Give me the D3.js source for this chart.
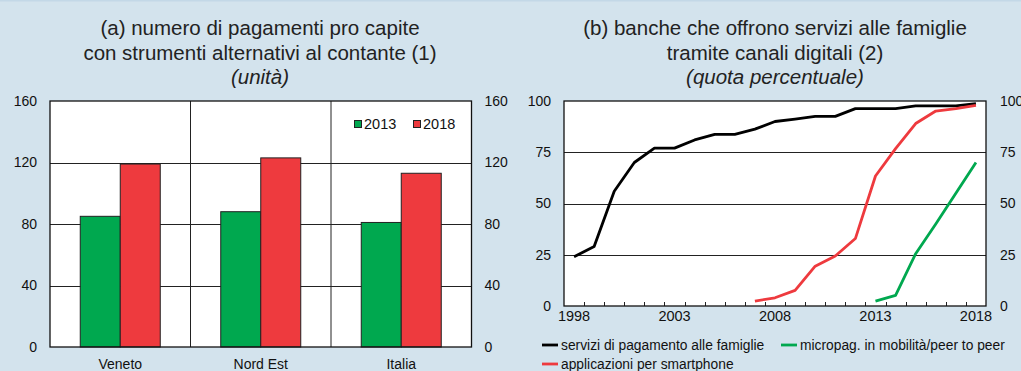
<!DOCTYPE html>
<html>
<head>
<meta charset="utf-8">
<script src="https://cdn.jsdelivr.net/npm/d3@7/dist/d3.min.js"></script>
<style>
  html, body { margin: 0; padding: 0; background: #d3e3ed; }
  svg { display: block; font-family: "Liberation Sans", Arial, sans-serif; }
</style>
</head>
<body>
<svg id="chart" width="1021" height="371"></svg>
<script>
// Panel (a): payments per capita with non-cash instruments
const regions = ["Veneto", "Nord Est", "Italia"];
const years = ["2013", "2018"];
const pay2013 = [85, 88, 81];
const pay2018 = [119, 123, 113];
const ticksA = [0, 40, 80, 120, 160];

// Panel (b): share of banks offering digital services to households
const yearsB = d3.range(1998, 2019);
const servizi = [24, 29, 56, 70, 77, 77, 81, 83.7, 83.7, 86.3, 90, 91.2, 92.5, 92.5, 96.3, 96.3, 96.3, 97.6, 97.6, 97.6, 98.7];
const appYears = d3.range(2007, 2019);
const app = [2.4, 4, 7.6, 19.4, 24.4, 32.9, 63.4, 76.8, 89, 95.1, 96.3, 97.9];
const microYears = d3.range(2013, 2019);
const micro = [2.4, 5.2, 25.5, 40, 55, 70];
const ticksB = [0, 25, 50, 75, 100];
const labelYearsB = [1998, 2003, 2008, 2013, 2018];

const GREEN = "#00a84f", RED = "#ee3a3e";
const FONT = "Liberation Sans, Arial, sans-serif";
const svg = d3.select("#chart");

// top edge line
svg.append("rect").attr("x", 0).attr("y", 0).attr("width", 1021).attr("height", 1.5).attr("fill", "#c3d8e7");

function styleAxis(a, size) {
  a.select(".domain").remove();
  a.selectAll("text").attr("font-size", size).attr("fill", "#111").attr("font-family", FONT);
}

// ---------- Panel (a) ----------
{
  const L = 50, R = 471.5, T = 101, B = 347;
  const x = d3.scaleBand().domain(regions).range([L, R]);
  const y = d3.scaleLinear().domain([0, 160]).range([B, T]);
  const inner = d3.scaleBand().domain(years).range([0, 80]);
  const g = svg.append("g");

  g.append("rect").attr("x", L).attr("y", T).attr("width", R - L).attr("height", B - T).attr("fill", "#fff");
  g.selectAll(".grid").data(ticksA.slice(1, -1)).join("line")
    .attr("x1", L).attr("x2", R).attr("y1", d => Math.round(y(d)) + 0.5).attr("y2", d => Math.round(y(d)) + 0.5)
    .attr("stroke", "#222").attr("stroke-width", 1);
  g.selectAll(".sep").data(regions.slice(1)).join("line")
    .attr("x1", d => x(d)).attr("x2", d => x(d)).attr("y1", T).attr("y2", B)
    .attr("stroke", "#222").attr("stroke-width", 1);

  const rows = regions.map((r, i) => [{ r, k: "2013", v: pay2013[i] }, { r, k: "2018", v: pay2018[i] }]).flat();
  g.selectAll(".bar").data(rows).join("rect")
    .attr("x", d => x(d.r) + (x.bandwidth() - 80) / 2 + inner(d.k))
    .attr("width", inner.bandwidth())
    .attr("y", d => y(d.v)).attr("height", d => B - y(d.v))
    .attr("fill", d => d.k === "2013" ? GREEN : RED)
    .attr("stroke", "#222").attr("stroke-width", 1);

  g.append("rect").attr("x", L).attr("y", T).attr("width", R - L).attr("height", B - T)
    .attr("fill", "none").attr("stroke", "#111").attr("stroke-width", 1.3);

  styleAxis(g.append("g").attr("transform", `translate(${L},0)`)
    .call(d3.axisLeft(y).tickValues(ticksA).tickSize(0).tickPadding(13)), 14);
  styleAxis(g.append("g").attr("transform", `translate(${R},0)`)
    .call(d3.axisRight(y).tickValues(ticksA).tickSize(0).tickPadding(13)), 14);
  styleAxis(g.append("g").attr("transform", `translate(0,${B})`)
    .call(d3.axisBottom(x).tickSize(0).tickPadding(12.5)), 14);

  // legend
  const lg = g.append("g").attr("transform", "translate(354,124)");
  years.forEach((k, i) => {
    const ox = i * 59;
    lg.append("rect").attr("x", ox + 0.5).attr("y", -3.5).attr("width", 7).attr("height", 7)
      .attr("fill", k === "2013" ? GREEN : RED).attr("stroke", "#222").attr("stroke-width", 1);
    lg.append("text").attr("x", ox + 10).attr("y", 0).attr("dy", "0.35em").attr("font-size", 14.5).attr("fill", "#111").text(k);
  });

  const tt = svg.append("text").attr("text-anchor", "middle").attr("fill", "#222").attr("font-size", 20.5);
  tt.append("tspan").attr("x", 260).attr("y", 35).text("(a) numero di pagamenti pro capite");
  tt.append("tspan").attr("x", 260).attr("y", 59.5).text("con strumenti alternativi al contante (1)");
  tt.append("tspan").attr("x", 260).attr("y", 84).attr("font-style", "italic").text("(unità)");
}

// ---------- Panel (b) ----------
{
  const L = 564, R = 986, T = 101, B = 306;
  const x = d3.scaleBand().domain(yearsB).range([L, R]);
  const cx = d => x(d) + x.bandwidth() / 2;
  const y = d3.scaleLinear().domain([0, 100]).range([B, T]);
  const g = svg.append("g");

  g.append("rect").attr("x", L).attr("y", T).attr("width", R - L).attr("height", B - T).attr("fill", "#fff");
  g.selectAll(".grid").data(ticksB.slice(1, -1)).join("line")
    .attr("x1", L).attr("x2", R).attr("y1", d => Math.round(y(d)) + 0.5).attr("y2", d => Math.round(y(d)) + 0.5)
    .attr("stroke", "#222").attr("stroke-width", 1);

  // small inward ticks at year boundaries
  g.selectAll(".yt").data(yearsB.slice(1)).join("line")
    .attr("x1", d => Math.round(x(d)) + 0.5).attr("x2", d => Math.round(x(d)) + 0.5)
    .attr("y1", B).attr("y2", B - 4).attr("stroke", "#222").attr("stroke-width", 1);

  const line = d3.line().x(d => cx(d[0])).y(d => y(d[1]));
  const series = [
    { c: "#000", pts: d3.zip(yearsB, servizi) },
    { c: RED, pts: d3.zip(appYears, app) },
    { c: GREEN, pts: d3.zip(microYears, micro) }
  ];
  g.selectAll(".ln").data(series).join("path")
    .attr("d", d => line(d.pts)).attr("fill", "none").attr("stroke", d => d.c)
    .attr("stroke-width", 2.8).attr("stroke-linejoin", "round");

  g.append("rect").attr("x", L).attr("y", T).attr("width", R - L).attr("height", B - T)
    .attr("fill", "none").attr("stroke", "#111").attr("stroke-width", 1.3);

  styleAxis(g.append("g").attr("transform", `translate(${L},0)`)
    .call(d3.axisLeft(y).tickValues(ticksB).tickSize(0).tickPadding(13)), 14);
  styleAxis(g.append("g").attr("transform", `translate(${R},0)`)
    .call(d3.axisRight(y).tickValues(ticksB).tickSize(0).tickPadding(14)), 14);
  styleAxis(g.append("g").attr("transform", `translate(0,${B})`)
    .call(d3.axisBottom(x).tickValues(labelYearsB).tickSize(0).tickPadding(4.5)), 14.5);

  // legend
  const leg = [
    { c: "#000", t: "servizi di pagamento alle famiglie", x: 542, y: 345 },
    { c: GREEN, t: "micropag. in mobilità/peer to peer", x: 781, y: 345 },
    { c: RED, t: "applicazioni per smartphone", x: 542, y: 364 }
  ];
  leg.forEach(d => {
    g.append("line").attr("x1", d.x).attr("x2", d.x + 16).attr("y1", d.y).attr("y2", d.y)
      .attr("stroke", d.c).attr("stroke-width", 2.8);
    g.append("text").attr("x", d.x + 19).attr("y", d.y).attr("dy", "0.35em")
      .attr("font-size", 13.8).attr("fill", "#111").text(d.t);
  });

  const tt = svg.append("text").attr("text-anchor", "middle").attr("fill", "#222").attr("font-size", 20.5);
  tt.append("tspan").attr("x", 775).attr("y", 35).text("(b) banche che offrono servizi alle famiglie");
  tt.append("tspan").attr("x", 775).attr("y", 59.5).text("tramite canali digitali (2)");
  tt.append("tspan").attr("x", 775).attr("y", 84).attr("font-style", "italic").text("(quota percentuale)");
}
</script>
</body>
</html>
